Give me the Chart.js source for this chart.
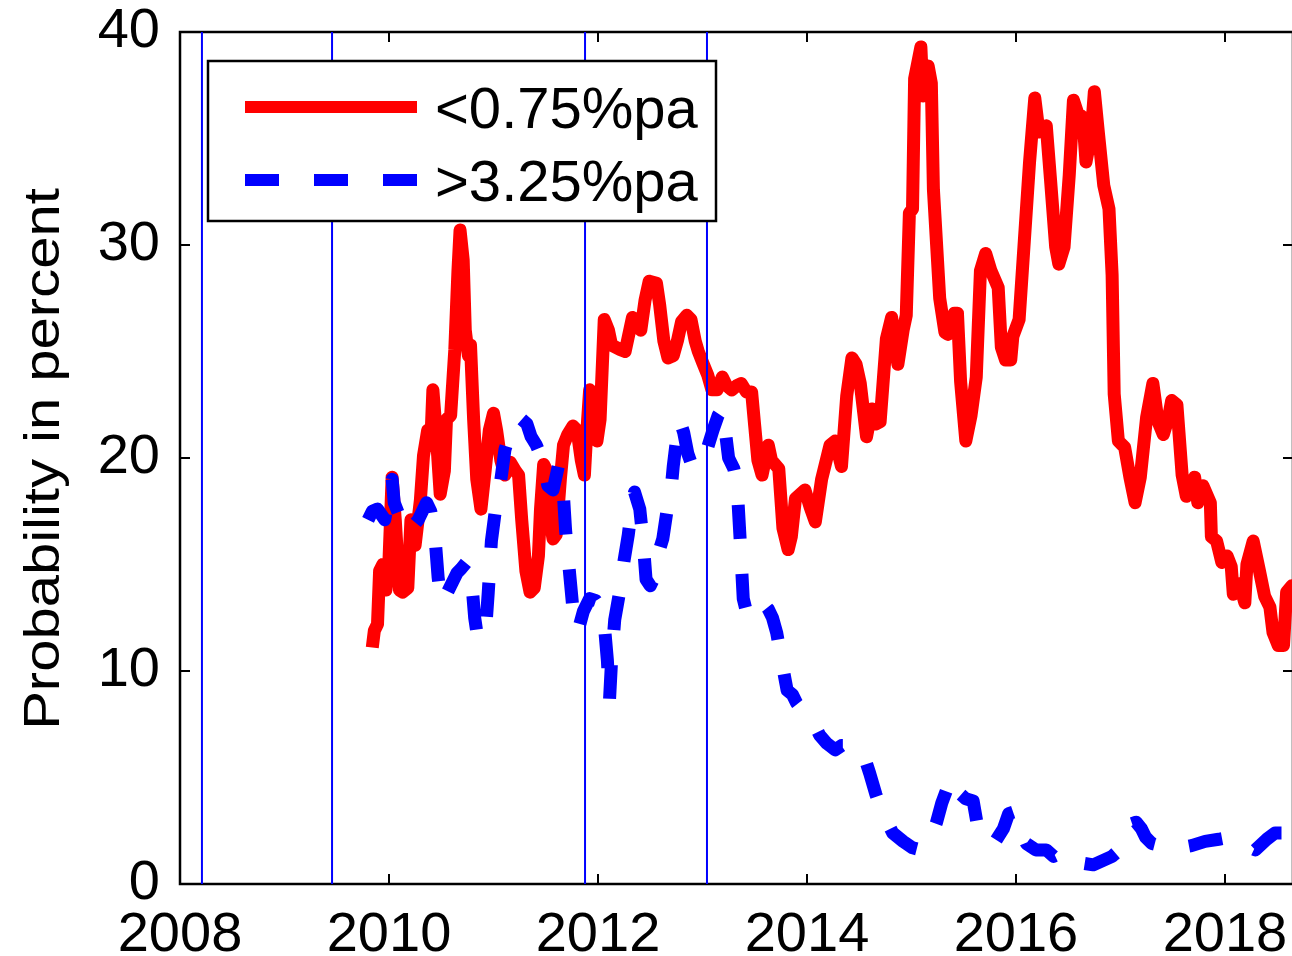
<!DOCTYPE html>
<html>
<head>
<meta charset="utf-8">
<script src="https://cdn.jsdelivr.net/npm/chart.js@4.4.1/dist/chart.umd.min.js"></script>
<style>
  html, body { margin: 0; padding: 0; overflow: hidden; background: #ffffff; }
  canvas { display: block; }
</style>
</head>
<body>
<canvas id="chart" width="1310" height="956"></canvas>
<script>
// Series names and axis labelling
const seriesLabels = ['<0.75%pa', '>3.25%pa'];
const yAxisTitle = 'Probability in percent';
const yearTicks = [2008, 2010, 2012, 2014, 2016, 2018];
const pctTicks = [0, 10, 20, 30, 40];
const yearRange = [2008, 2018.651];
const pctRange = [0, 40];

// Dates (decimal years) marked by thin vertical lines
const eventDates = [2008.21, 2009.455, 2011.876, 2013.043];

// Probability of a rate below 0.75% pa: [decimal year, percent]
const lowRateSeries = [
  [2009.84, 11.1], [2009.86, 11.9], [2009.89, 12.2], [2009.91, 14.7], [2009.94, 15.0],
  [2009.97, 13.8], [2010.00, 15.2], [2010.03, 19.1], [2010.06, 17.1], [2010.10, 13.8],
  [2010.13, 13.7], [2010.18, 13.9], [2010.21, 17.1], [2010.25, 15.9], [2010.30, 18.0],
  [2010.33, 20.1], [2010.37, 21.3], [2010.40, 20.7], [2010.42, 23.2], [2010.45, 21.3],
  [2010.49, 18.3], [2010.53, 19.4], [2010.55, 21.8], [2010.59, 22.0], [2010.63, 25.1],
  [2010.66, 28.8], [2010.68, 30.7], [2010.71, 29.3], [2010.73, 26.0], [2010.76, 24.8],
  [2010.78, 25.3], [2010.81, 21.8], [2010.84, 19.0], [2010.88, 17.6], [2010.92, 19.4],
  [2010.96, 21.3], [2011.00, 22.1], [2011.03, 21.3], [2011.07, 19.9], [2011.11, 19.2],
  [2011.16, 19.8], [2011.21, 19.4], [2011.24, 19.2], [2011.27, 17.1], [2011.31, 14.7],
  [2011.35, 13.7], [2011.39, 13.9], [2011.43, 15.4], [2011.45, 17.6], [2011.48, 19.7],
  [2011.51, 19.4], [2011.54, 17.1], [2011.57, 16.2], [2011.60, 16.4], [2011.64, 19.0],
  [2011.67, 20.6], [2011.71, 21.1], [2011.76, 21.5], [2011.80, 21.3], [2011.84, 19.9],
  [2011.87, 19.2], [2011.89, 21.0], [2011.92, 23.2], [2011.96, 23.0], [2011.99, 20.8],
  [2012.02, 21.8], [2012.06, 26.5], [2012.10, 26.0], [2012.13, 25.3], [2012.21, 25.1],
  [2012.26, 25.0], [2012.33, 26.6], [2012.37, 26.2], [2012.41, 26.0], [2012.45, 27.4],
  [2012.49, 28.3], [2012.56, 28.2], [2012.59, 27.2], [2012.63, 25.5], [2012.67, 24.7],
  [2012.72, 24.8], [2012.76, 25.5], [2012.80, 26.4], [2012.85, 26.7], [2012.89, 26.5],
  [2012.93, 25.5], [2012.96, 25.0], [2013.00, 24.5], [2013.05, 23.9], [2013.09, 23.2],
  [2013.14, 23.2], [2013.19, 23.8], [2013.23, 23.4], [2013.28, 23.2], [2013.33, 23.4],
  [2013.37, 23.5], [2013.42, 23.1], [2013.47, 23.1], [2013.50, 21.5], [2013.53, 19.9],
  [2013.57, 19.2], [2013.63, 20.6], [2013.66, 19.9], [2013.73, 19.5], [2013.77, 16.7],
  [2013.82, 15.7], [2013.85, 16.3], [2013.89, 18.1], [2013.98, 18.5], [2014.03, 17.7],
  [2014.08, 17.0], [2014.14, 19.0], [2014.22, 20.6], [2014.27, 20.8], [2014.33, 19.6],
  [2014.38, 22.9], [2014.43, 24.7], [2014.47, 24.4], [2014.51, 23.5], [2014.57, 21.0],
  [2014.62, 22.3], [2014.66, 21.6], [2014.70, 21.7], [2014.76, 25.6], [2014.81, 26.6],
  [2014.87, 24.4], [2014.92, 26.0], [2014.95, 26.7], [2014.98, 31.5], [2015.01, 31.7],
  [2015.03, 37.8], [2015.09, 39.3], [2015.11, 37.0], [2015.16, 38.4], [2015.19, 37.6],
  [2015.21, 32.6], [2015.27, 27.5], [2015.32, 25.9], [2015.35, 25.8], [2015.41, 26.8],
  [2015.44, 26.8], [2015.47, 23.6], [2015.52, 20.8], [2015.57, 22.0], [2015.62, 23.8],
  [2015.66, 28.8], [2015.71, 29.6], [2015.76, 28.8], [2015.83, 28.0], [2015.86, 25.2],
  [2015.90, 24.6], [2015.95, 24.6], [2015.97, 25.7], [2016.03, 26.5], [2016.08, 30.2],
  [2016.13, 33.9], [2016.18, 36.9], [2016.22, 35.3], [2016.29, 35.6], [2016.33, 33.1],
  [2016.38, 29.9], [2016.41, 29.1], [2016.46, 29.9], [2016.51, 33.3], [2016.55, 36.8],
  [2016.59, 36.2], [2016.64, 36.0], [2016.67, 33.9], [2016.72, 35.2], [2016.75, 37.2],
  [2016.79, 35.2], [2016.84, 32.8], [2016.89, 31.7], [2016.92, 28.6], [2016.94, 23.0],
  [2016.98, 20.8], [2017.04, 20.5], [2017.09, 19.1], [2017.14, 17.9], [2017.19, 19.1],
  [2017.25, 21.9], [2017.31, 23.5], [2017.36, 21.7], [2017.41, 21.1], [2017.46, 21.9],
  [2017.49, 22.7], [2017.54, 22.5], [2017.59, 19.2], [2017.63, 18.2], [2017.71, 19.1],
  [2017.74, 17.9], [2017.79, 18.7], [2017.86, 17.9], [2017.87, 16.3], [2017.92, 16.1],
  [2017.97, 15.1], [2018.02, 15.4], [2018.06, 14.9], [2018.08, 13.6], [2018.14, 14.1],
  [2018.19, 13.2], [2018.21, 15.0], [2018.27, 16.1], [2018.33, 14.7], [2018.38, 13.5],
  [2018.43, 13.0], [2018.46, 11.8], [2018.51, 11.2], [2018.56, 11.2], [2018.59, 13.7],
  [2018.64, 14.0], [2018.67, 14.0]
];

// Probability of a rate above 3.25% pa: [decimal year, percent]
const highRateSeries = [
  [2009.80, 17.1], [2009.84, 17.5], [2009.89, 17.6], [2009.96, 17.1], [2009.99, 18.0],
  [2010.03, 19.0], [2010.05, 17.9], [2010.09, 17.4], [2010.18, 16.5], [2010.28, 17.1],
  [2010.36, 17.9], [2010.40, 17.5], [2010.44, 16.3], [2010.47, 14.4], [2010.50, 13.2],
  [2010.56, 13.7], [2010.65, 14.6], [2010.69, 14.8], [2010.74, 15.1], [2010.79, 14.3],
  [2010.82, 12.5], [2010.85, 11.5], [2010.89, 11.6], [2010.93, 12.3], [2010.95, 13.7],
  [2010.98, 16.1], [2011.03, 18.0], [2011.06, 18.6], [2011.11, 20.4], [2011.16, 21.2],
  [2011.21, 21.7], [2011.25, 21.9], [2011.32, 21.6], [2011.36, 21.0], [2011.41, 20.6],
  [2011.47, 19.9], [2011.52, 18.7], [2011.57, 18.5], [2011.62, 19.6], [2011.66, 19.0],
  [2011.69, 16.6], [2011.73, 14.5], [2011.77, 12.4], [2011.81, 11.9], [2011.86, 12.8],
  [2011.92, 13.4], [2011.98, 13.3], [2012.02, 13.0], [2012.06, 12.2], [2012.09, 10.5],
  [2012.11, 8.6], [2012.13, 10.5], [2012.16, 12.4], [2012.21, 13.8], [2012.25, 15.2],
  [2012.29, 16.4], [2012.33, 18.0], [2012.35, 18.4], [2012.40, 17.6], [2012.43, 16.2],
  [2012.46, 14.3], [2012.50, 14.0], [2012.54, 14.4], [2012.57, 15.4], [2012.62, 16.2],
  [2012.66, 17.5], [2012.69, 18.0], [2012.72, 19.6], [2012.75, 20.8], [2012.78, 21.8],
  [2012.82, 21.2], [2012.86, 20.2], [2012.91, 19.5], [2012.96, 19.8], [2013.00, 20.1],
  [2013.05, 20.5], [2013.10, 21.3], [2013.15, 22.0], [2013.19, 22.3], [2013.22, 21.2],
  [2013.25, 20.0], [2013.30, 19.5], [2013.33, 18.8], [2013.36, 16.2], [2013.39, 13.4],
  [2013.43, 12.6], [2013.47, 12.7], [2013.52, 12.9], [2013.58, 13.2], [2013.63, 12.9],
  [2013.67, 12.5], [2013.71, 11.8], [2013.76, 10.4], [2013.81, 9.1], [2013.86, 8.9],
  [2013.90, 8.5], [2013.98, 8.0], [2014.06, 7.6], [2014.12, 7.0], [2014.19, 6.6],
  [2014.27, 6.3], [2014.33, 6.5], [2014.41, 6.5], [2014.47, 6.3], [2014.52, 6.3],
  [2014.56, 5.8], [2014.60, 5.2], [2014.66, 4.2], [2014.71, 3.5], [2014.76, 3.0],
  [2014.82, 2.4], [2014.92, 2.0], [2015.01, 1.7], [2015.09, 1.6], [2015.15, 1.9],
  [2015.21, 2.5], [2015.24, 2.9], [2015.29, 3.8], [2015.35, 4.6], [2015.41, 5.0],
  [2015.45, 4.3], [2015.52, 4.0], [2015.59, 3.9], [2015.64, 2.5], [2015.71, 2.1],
  [2015.79, 1.9], [2015.88, 2.6], [2015.93, 3.3], [2015.99, 3.4], [2016.04, 2.6],
  [2016.10, 1.9], [2016.19, 1.6], [2016.29, 1.6], [2016.36, 1.3], [2016.45, 1.5],
  [2016.51, 1.1], [2016.61, 1.0], [2016.74, 0.9], [2016.83, 1.1], [2016.92, 1.3],
  [2016.99, 1.6], [2017.04, 2.3], [2017.09, 2.8], [2017.15, 2.9], [2017.20, 2.6],
  [2017.24, 2.2], [2017.30, 1.9], [2017.38, 1.8], [2017.44, 1.7], [2017.57, 1.7],
  [2017.68, 1.8], [2017.81, 2.0], [2017.94, 2.1], [2018.05, 2.2], [2018.16, 1.9],
  [2018.29, 1.6], [2018.40, 2.1], [2018.48, 2.4], [2018.56, 2.4], [2018.67, 2.4]
];

const FONT = "'Liberation Sans', Arial, Helvetica, sans-serif";
const RED = '#ff0000';
const BLUE = '#0000ff';
const DASH = [34, 35];
const CURVE_WIDTH = 13;

const toPoints = rows => rows.map(([x, y]) => ({ x, y }));

const datasets = [];
// event markers (drawn on top of the curves)
eventDates.forEach(d => {
  datasets.push({
    label: 'event',
    data: [{ x: d, y: pctRange[0] }, { x: d, y: pctRange[1] }],
    borderColor: BLUE, borderWidth: 2, pointRadius: 0, order: 0, clip: 0
  });
});
datasets.push({
  label: seriesLabels[1], data: toPoints(highRateSeries),
  borderColor: BLUE, borderWidth: CURVE_WIDTH, borderDash: DASH,
  borderCapStyle: 'butt', borderJoinStyle: 'round',
  pointRadius: 0, tension: 0, order: 1, clip: 0
});
datasets.push({
  label: seriesLabels[0], data: toPoints(lowRateSeries),
  borderColor: RED, borderWidth: CURVE_WIDTH,
  borderCapStyle: 'butt', borderJoinStyle: 'round',
  pointRadius: 0, tension: 0, order: 2, clip: 0
});

// Axes box with inward tick marks on all four sides
const framePlugin = {
  id: 'frame',
  beforeDatasetsDraw(chart) {
    const { ctx, chartArea: a, scales } = chart;
    const tl = 10;
    ctx.save();
    ctx.strokeStyle = '#000';
    ctx.lineWidth = 2;
    yearTicks.forEach(v => {
      const x = Math.round(scales.x.getPixelForValue(v));
      ctx.beginPath();
      ctx.moveTo(x, a.bottom); ctx.lineTo(x, a.bottom - tl);
      ctx.moveTo(x, a.top); ctx.lineTo(x, a.top + tl);
      ctx.stroke();
    });
    pctTicks.forEach(v => {
      const y = Math.round(scales.y.getPixelForValue(v));
      ctx.beginPath();
      ctx.moveTo(a.left, y); ctx.lineTo(a.left + tl, y);
      ctx.moveTo(a.right, y); ctx.lineTo(a.right - tl, y);
      ctx.stroke();
    });
    ctx.lineWidth = 2.5;
    ctx.strokeRect(a.left, a.top, a.right - a.left, a.bottom - a.top);
    ctx.restore();
  }
};

// Boxed legend in the upper-left corner of the plot, plus the rotated y-axis title
const boxLegendPlugin = {
  id: 'boxLegend',
  afterDatasetsDraw(chart) {
    const { ctx } = chart;
    const box = { x: 208, y: 61, w: 508, h: 160 };
    ctx.save();
    ctx.fillStyle = '#fff';
    ctx.fillRect(box.x, box.y, box.w, box.h);
    ctx.strokeStyle = '#000';
    ctx.lineWidth = 2.5;
    ctx.strokeRect(box.x, box.y, box.w, box.h);
    const rows = [
      { ds: datasets.find(d => d.label === seriesLabels[0]), y: 107 },
      { ds: datasets.find(d => d.label === seriesLabels[1]), y: 180 }
    ];
    rows.forEach(r => {
      ctx.save();
      ctx.strokeStyle = r.ds.borderColor;
      ctx.lineWidth = 12;
      ctx.lineCap = 'butt';
      ctx.setLineDash(r.ds.borderDash || []);
      ctx.beginPath();
      ctx.moveTo(245, r.y); ctx.lineTo(417, r.y);
      ctx.stroke();
      ctx.restore();
      ctx.fillStyle = '#000';
      ctx.font = '58px ' + FONT;
      ctx.textAlign = 'left';
      ctx.textBaseline = 'alphabetic';
      ctx.fillText(r.ds.label, 435, r.y + 21);
    });
    ctx.restore();
  },
  afterDraw(chart) {
    const { ctx, chartArea: a } = chart;
    ctx.save();
    ctx.translate(59, (a.top + a.bottom) / 2 + 1);
    ctx.rotate(-Math.PI / 2);
    ctx.scale(1.16, 1);
    ctx.fillStyle = '#000';
    ctx.font = '50px ' + FONT;
    ctx.textAlign = 'center';
    ctx.textBaseline = 'alphabetic';
    ctx.fillText(yAxisTitle, 0, 0);
    ctx.restore();
  }
};

new Chart(document.getElementById('chart'), {
  type: 'line',
  data: { datasets },
  options: {
    responsive: false,
    animation: false,
    devicePixelRatio: 1,
    events: [],
    layout: { padding: { top: 32, right: 17, left: 0, bottom: 0 } },
    plugins: { legend: { display: false }, tooltip: { enabled: false } },
    scales: {
      x: {
        type: 'linear',
        min: yearRange[0], max: yearRange[1],
        grid: { display: false, drawTicks: false },
        border: { display: false },
        afterBuildTicks: s => { s.ticks = yearTicks.map(v => ({ value: v })); },
        afterFit: s => { s.height = 72; s.paddingLeft = 0; s.paddingRight = 0; },
        ticks: {
          color: '#000', padding: 18, maxRotation: 0, autoSkip: false,
          font: { family: FONT, size: 56 },
          callback: v => String(v)
        }
      },
      y: {
        min: pctRange[0], max: pctRange[1],
        grid: { display: false, drawTicks: false },
        border: { display: false },
        afterBuildTicks: s => { s.ticks = pctTicks.map(v => ({ value: v })); },
        afterFit: s => { s.width = 180; s.paddingTop = 0; s.paddingBottom = 0; },
        ticks: {
          color: '#000', padding: 20,
          font: { family: FONT, size: 56 },
          callback: v => String(v)
        }
      }
    }
  },
  plugins: [framePlugin, boxLegendPlugin]
});
</script>
</body>
</html>
